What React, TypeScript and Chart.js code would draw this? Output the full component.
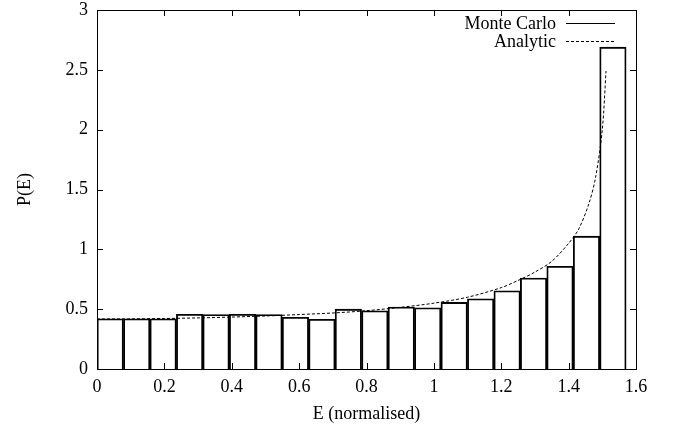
import React, { useEffect, useRef } from "react";
import { Chart, registerables } from "chart.js";

Chart.register(...registerables);

// Histogram bin centres (E, normalised) and Monte Carlo probabilities
const binCenters = [
  0.0393, 0.1178, 0.1963, 0.2749, 0.3534, 0.432, 0.5105, 0.589, 0.6676, 0.7461,
  0.8247, 0.9032, 0.9817, 1.0603, 1.1388, 1.2174, 1.2959, 1.3744, 1.453, 1.5315,
];
const monteCarlo = [
  0.42, 0.42, 0.42, 0.457, 0.455, 0.457, 0.455, 0.432, 0.415, 0.5,
  0.487, 0.518, 0.512, 0.557, 0.587, 0.654, 0.76, 0.858, 1.11, 2.69,
];

// Analytic curve points
const analyticE = [
  0, 0.1, 0.2, 0.3, 0.4, 0.5, 0.6, 0.7, 0.8, 0.9, 1.0, 1.1, 1.2, 1.25, 1.3,
  1.35, 1.4, 1.43, 1.46, 1.48, 1.5, 1.511,
];
const analyticP = [
  0.418, 0.419, 0.422, 0.427, 0.434, 0.443, 0.455, 0.468, 0.487, 0.515, 0.55,
  0.6, 0.68, 0.74, 0.81, 0.9, 1.05, 1.17, 1.38, 1.6, 2.0, 2.49,
];

const xTicks = [0, 0.2, 0.4, 0.6, 0.8, 1, 1.2, 1.4, 1.6];
const yTicks = [0, 0.5, 1, 1.5, 2, 2.5, 3];
const legendLabels = ["Monte Carlo", "Analytic"];

const FONT = "'Liberation Serif', 'Times New Roman', serif";
const FS = 18;

const framePlugin = {
  id: "gnuplotFrame",
  afterDraw(chart: any) {
    const { ctx, chartArea: a, scales } = chart;
    const xs = scales.x;
    const ys = scales.y;
    ctx.save();
    ctx.strokeStyle = "#000";
    ctx.lineWidth = 1;
    ctx.setLineDash([]);
    ctx.strokeRect(Math.round(a.left) + 0.5, Math.round(a.top) + 0.5, Math.round(a.right - a.left), Math.round(a.bottom - a.top));
    const tl = 6;
    ctx.beginPath();
    for (const v of xTicks) {
      const px = Math.round(xs.getPixelForValue(v)) + 0.5;
      ctx.moveTo(px, a.bottom);
      ctx.lineTo(px, a.bottom - tl);
      ctx.moveTo(px, a.top);
      ctx.lineTo(px, a.top + tl);
    }
    for (const v of yTicks) {
      const py = Math.round(ys.getPixelForValue(v)) + 0.5;
      ctx.moveTo(a.left, py);
      ctx.lineTo(a.left + tl, py);
      ctx.moveTo(a.right, py);
      ctx.lineTo(a.right - tl, py);
    }
    ctx.stroke();

    // Legend (gnuplot style: text then sample)
    ctx.font = `${FS}px ${FONT}`;
    ctx.fillStyle = "#000";
    ctx.textAlign = "right";
    ctx.textBaseline = "alphabetic";
    const textRight = 556;
    const x1 = 566;
    const x2 = 615;
    const baselines = [28.5, 46.5];
    const lines = [23.5, 41.5];
    legendLabels.forEach((label, i) => {
      ctx.fillText(label, textRight, baselines[i]);
      ctx.beginPath();
      ctx.setLineDash(i === 0 ? [] : [3, 2]);
      ctx.moveTo(x1, lines[i]);
      ctx.lineTo(x2, lines[i]);
      ctx.stroke();
    });
    ctx.restore();
  },
};

export default function App() {
  const ref = useRef<HTMLCanvasElement | null>(null);

  useEffect(() => {
    document.body.style.margin = "0";
    const canvas = ref.current!;
    const chart = new Chart(canvas, {
      type: "bar",
      data: {
        datasets: [
          {
            type: "line",
            label: "Analytic",
            data: analyticE.map((e, i) => ({ x: e, y: analyticP[i] })),
            borderColor: "#000",
            borderWidth: 1,
            borderDash: [3, 2],
            pointRadius: 0,
            fill: false,
            tension: 0.3,
            order: 0,
          } as any,
          {
            type: "bar",
            label: "Monte Carlo",
            data: binCenters.map((e, i) => ({ x: e, y: monteCarlo[i] })),
            backgroundColor: "rgba(255,255,255,0)",
            borderColor: "#000",
            borderWidth: 1.2,
            barPercentage: 1,
            categoryPercentage: 1,
            order: 1,
          } as any,
        ],
      },
      options: {
        responsive: false,
        animation: false,
        layout: { padding: { top: 10, right: 42, left: 0, bottom: 0 } },
        plugins: {
          legend: { display: false },
          tooltip: { enabled: false },
        },
        scales: {
          x: {
            type: "linear",
            min: 0,
            max: 1.6,
            offset: false,
            grid: { display: false, drawTicks: false },
            border: { display: false },
            afterBuildTicks: (s: any) => {
              s.ticks = xTicks.map((v) => ({ value: v }));
            },
            afterFit: (s: any) => {
              s.height = 59;
              s.paddingLeft = 0;
              s.paddingRight = 0;
            },
            ticks: {
              color: "#000",
              font: { family: FONT, size: FS },
              padding: 7,
              maxRotation: 0,
              callback: (v: any) => String(parseFloat(Number(v).toFixed(1))),
            },
            title: {
              display: true,
              text: "E (normalised)",
              color: "#000",
              font: { family: FONT, size: FS },
              padding: { top: 0, bottom: 3 },
            },
          },
          y: {
            type: "linear",
            min: 0,
            max: 3,
            grid: { display: false, drawTicks: false },
            border: { display: false },
            afterBuildTicks: (s: any) => {
              s.ticks = yTicks.map((v) => ({ value: v }));
            },
            afterFit: (s: any) => {
              s.width = 97;
              s.paddingTop = 0;
              s.paddingBottom = 0;
            },
            ticks: {
              color: "#000",
              font: { family: FONT, size: FS },
              padding: 9,
              callback: (v: any) => String(parseFloat(Number(v).toFixed(1))),
            },
            title: {
              display: true,
              text: "P(E)",
              color: "#000",
              font: { family: FONT, size: FS },
              padding: { top: 14, bottom: 0 },
            },
          },
        },
      } as any,
      plugins: [framePlugin],
    });
    return () => chart.destroy();
  }, []);

  return (
    <div style={{ position: "absolute", left: 0, top: 0, width: 678, height: 428, background: "#fff" }}>
      <canvas ref={ref} width={678} height={428} style={{ width: 678, height: 428 }} />
    </div>
  );
}
